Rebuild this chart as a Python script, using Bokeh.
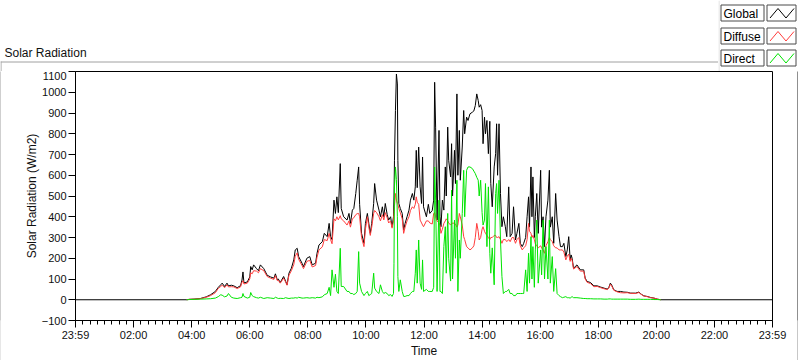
import numpy as np
from bokeh.plotting import figure
from bokeh.layouts import column, row
from bokeh.models import Range1d, FixedTicker
from bokeh.core.properties import value
from bokeh.embed import file_html
from bokeh.resources import INLINE

nan = float("nan")

times = [
    "00:00","03:50","03:55","04:05","04:18","04:30","04:39","04:49","04:55","05:00",
    "05:03","05:08","05:13","05:16","05:22","05:27","05:34","05:41","05:44","05:46",
    "05:48","05:55","06:00","06:02","06:05","06:08","06:14","06:18","06:22","06:29",
    "06:36","06:43","06:50","06:53","06:57","06:59","07:03","07:10","07:14","07:17",
    "07:21","07:26","07:31","07:34","07:38","07:41","07:48","07:51","07:58","08:04",
    "08:09","08:16","08:19","08:23","08:30","08:34","08:40","08:44","08:47","08:50",
    "08:54","08:57","09:00","09:03","09:07","09:09","09:14","09:21","09:25","09:28",
    "09:32","09:35","09:39","09:42","09:45","09:47","09:51","09:56","09:59","10:03",
    "10:06","10:09","10:12","10:16","10:18","10:22","10:27","10:30","10:34","10:37",
    "10:40","10:44","10:47","10:51","10:54","10:57","10:58","10:59","11:01","11:03",
    "11:05","11:06","11:08","11:11","11:15","11:18","11:21","11:25","11:29","11:32",
    "11:36","11:39","11:42","11:44","11:46","11:49","11:52","11:55","11:57","11:59",
    "12:05","12:09","12:12","12:17","12:20","12:22","12:24","12:27","12:31","12:33",
    "12:35","12:38","12:41","12:44","12:46","12:49","12:51","12:55","12:57","12:59",
    "13:03","13:05","13:08","13:10","13:13","13:15","13:19","13:22","13:24","13:28",
    "13:31","13:35","13:40","13:43","13:46","13:49","13:52","13:54","13:57","14:00",
    "14:02","14:05","14:07","14:10","14:13","14:16","14:18","14:21","14:25","14:28",
    "14:30","14:32","14:35","14:38","14:41","14:44","14:48","14:51","14:55","14:58",
    "15:02","15:05","15:09","15:12","15:16","15:19","15:23","15:26","15:30","15:33",
    "15:36","15:38","15:41","15:43","15:45","15:48","15:50","15:53","15:56","16:01",
    "16:03","16:06","16:09","16:12","16:16","16:19","16:21","16:25","16:28","16:32",
    "16:35","16:39","16:42","16:46","16:49","16:53","16:56","16:59","17:02","17:04",
    "17:06","17:09","17:16","17:23","17:30","17:33","17:37","17:44","17:51","17:58",
    "18:05","18:12","18:19","18:22","18:25","18:28","18:32","18:39","18:46","18:53",
    "19:00","19:07","19:17","19:24","19:28","19:34","19:41","19:48","19:55","20:02",
    "20:09","24:00",
]

global_wm2 = [
    0,0,2,3,6,14,24,40,60,72,
    80,64,80,67,70,67,58,68,95,134,
    81,86,110,160,144,168,150,140,168,150,
    118,110,104,125,96,100,83,112,90,72,
    128,152,192,240,248,208,176,160,200,208,
    168,176,224,264,280,320,304,368,304,290,
    480,416,496,420,656,440,400,384,416,368,
    432,440,512,576,640,460,320,272,368,416,
    368,320,368,464,560,480,432,400,448,400,
    464,410,384,400,352,400,500,672,912,1088,
    1040,672,464,440,416,336,368,400,432,480,
    512,480,544,720,540,736,544,464,688,448,
    400,460,416,430,480,1048,832,384,816,400,
    352,480,432,640,500,832,672,592,752,500,
    720,560,992,600,816,576,736,912,800,880,
    864,896,904,910,936,992,960,928,940,912,
    752,880,800,864,704,860,560,448,640,704,
    848,600,848,512,352,400,352,304,544,304,
    320,448,288,320,368,272,256,272,300,400,
    496,350,640,400,592,300,400,512,320,624,
    350,400,256,400,480,624,350,400,272,512,
    384,304,256,256,272,208,240,304,192,216,
    200,152,168,144,144,104,88,83,67,67,
    61,56,51,60,80,70,48,40,40,37,
    36,32,32,37,28,19,16,11,8,3,
    0,0,
]

diffuse_wm2 = [
    nan,0,2,3,5,12,20,34,55,64,
    70,58,72,62,63,62,54,62,84,92,
    76,80,100,130,125,140,138,130,150,140,
    112,104,98,116,92,94,80,104,86,70,
    118,140,170,210,226,195,165,150,185,190,
    158,165,205,240,255,290,285,320,290,270,
    390,380,400,385,405,390,380,360,380,350,
    390,395,410,415,416,400,300,256,340,400,
    350,310,350,416,430,420,400,380,410,385,
    420,395,370,380,345,380,420,450,512,480,
    464,460,440,420,390,320,350,380,400,430,
    448,440,460,496,470,460,384,370,360,352,
    380,380,370,365,416,420,400,380,370,360,
    320,340,368,380,390,380,370,360,365,370,
    368,365,350,360,416,400,360,304,290,256,
    250,240,250,260,300,368,330,288,300,340,
    352,330,320,310,300,290,300,300,310,310,
    300,300,304,290,272,290,290,280,290,280,
    300,300,272,290,300,260,240,250,260,290,
    368,330,320,300,310,290,270,260,250,260,
    250,240,224,260,280,300,290,280,260,250,
    250,240,240,240,230,192,210,220,185,200,
    190,148,160,138,138,100,84,78,63,64,
    58,53,49,57,75,66,46,38,34,33,
    34,31,30,35,27,18,15,10,8,3,
    0,nan,
]

direct_wm2 = [
    nan,0,1,2,3,4,5,8,15,24,
    22,14,18,30,12,8,6,10,12,30,
    16,8,12,35,20,15,10,8,12,6,
    10,8,6,12,8,6,7,6,10,8,
    6,8,8,10,8,12,8,8,10,8,
    10,8,12,10,14,24,30,60,20,144,
    60,123,40,30,248,64,64,40,40,30,
    30,25,30,40,232,80,40,20,30,40,
    20,25,30,128,56,40,30,72,40,30,
    35,30,20,25,16,30,176,544,640,580,
    400,112,40,96,40,16,16,20,20,30,
    40,40,128,240,80,288,80,50,192,40,
    50,40,40,40,60,640,480,40,480,40,
    40,30,256,352,128,416,200,90,528,100,
    384,200,576,40,288,200,416,624,400,624,
    640,640,632,620,608,590,576,500,576,420,
    360,384,560,256,544,224,128,250,72,512,
    560,416,576,288,112,30,40,40,50,30,
    30,20,20,30,30,30,30,30,144,40,
    224,80,304,100,256,60,240,384,80,240,
    120,384,100,256,100,384,80,208,40,150,
    30,20,15,10,12,15,10,10,8,12,
    15,10,10,8,6,6,5,5,4,4,
    4,3,3,4,4,3,3,3,3,3,
    3,2,2,3,2,2,2,2,1,1,
    0,nan,
]

x_tick_minutes = [0, 120, 240, 360, 480, 600, 720, 840, 960, 1080, 1200, 1320, 1440]
x_tick_labels = ["23:59", "02:00", "04:00", "06:00", "08:00", "10:00", "12:00",
                 "14:00", "16:00", "18:00", "20:00", "22:00", "23:59"]
x_minor_step = 15
y_ticks = [-100, 0, 100, 200, 300, 400, 500, 600, 700, 800, 900, 1000, 1100]

chart_title = "Solar Radiation"
x_label = "Time"
y_label = "Solar Radiation (W/m2)"
series_names = ["Global", "Diffuse", "Direct"]
series_colors = ["#000000", "#ff3c3c", "#00e400"]

n = len(times)
assert len(global_wm2) == n and len(diffuse_wm2) == n and len(direct_wm2) == n, \
    (n, len(global_wm2), len(diffuse_wm2), len(direct_wm2))


def to_minutes(s):
    h, m = s.split(":")
    return int(h) * 60 + int(m)


t = np.array([to_minutes(s) for s in times], dtype=float)
series = [np.array(global_wm2, float), np.array(diffuse_wm2, float),
          np.array(direct_wm2, float)]

FONT = "Liberation Sans"
TXT = "#101010"
FRAME_LIGHT = "#a0a0a0"
FRAME_DARK = "#202020"


def pixel_fig(w, h):
    """A figure whose frame is the whole canvas, in pixel units (y down)."""
    f = figure(width=w, height=h, output_backend="svg", toolbar_location=None, tools="",
               x_range=Range1d(0, w), y_range=Range1d(h, 0),
               x_axis_type=None, y_axis_type=None, min_border=0,
               outline_line_color=None, background_fill_color="white",
               border_fill_color="white")
    f.grid.visible = False
    return f


def strip(w, h, color):
    """A plain filled strip used for the control's border lines."""
    f = figure(width=w, height=h, output_backend="svg", toolbar_location=None, tools="",
               x_range=Range1d(0, 1), y_range=Range1d(0, 1),
               x_axis_type=None, y_axis_type=None, min_border=0,
               outline_line_color=None, background_fill_color=color,
               border_fill_color=color)
    f.grid.visible = False
    return f


# ---- title strip (top-left) ----
TOP_H = 71
f_title = pixel_fig(718, TOP_H)
f_title.text(x=[4], y=[52], text=[chart_title], text_font=value(FONT),
             text_font_size="12px", text_baseline="middle", text_color=TXT)
f_title.segment(x0=[0, 0.5], y0=[61.5, 61], x1=[718, 0.5], y1=[61.5, TOP_H],
                line_color=FRAME_LIGHT, line_width=1)

# ---- legend (top-right) ----
f_leg = pixel_fig(82, TOP_H)
f_leg.segment(x0=[0.5], y0=[0], x1=[0.5], y1=[TOP_H], line_color="#dcdcdc")
box_tops = [4.5, 27.5, 49.5]
box_h = 16
f_leg.quad(left=[2.5] * 3, right=[45.5] * 3, top=box_tops,
           bottom=[b + box_h for b in box_tops],
           fill_color="white", line_color="#4a4a4a", line_width=1)
f_leg.quad(left=[48.5] * 3, right=[77.5] * 3, top=box_tops,
           bottom=[b + box_h for b in box_tops],
           fill_color="white", line_color="#4a4a4a", line_width=1)
f_leg.text(x=[5] * 3, y=[b + box_h / 2 + 0.5 for b in box_tops], text=series_names,
           text_font=value(FONT), text_font_size="12px", text_baseline="middle",
           text_color="#000000")
zig_xs = [[51.5, 59.5, 67.5, 75.5] for _ in box_tops]
zig_ys = [[b + 13, b + 3.5, b + 13, b + 3.5] for b in box_tops]
f_leg.multi_line(xs=zig_xs, ys=zig_ys, line_color=series_colors, line_width=1)

# ---- main chart ----
MAIN_H = 361 - TOP_H - 1
p = figure(width=796, height=MAIN_H, output_backend="svg", toolbar_location=None, tools="",
           x_range=Range1d(0, 1440), y_range=Range1d(-100, 1100),
           min_border_left=74, min_border_right=25, min_border_top=0, min_border_bottom=39,
           background_fill_color="white", border_fill_color="white",
           outline_line_color="black", outline_line_width=1)
p.grid.visible = False

for vals, col in zip(series, series_colors):
    p.line(t, vals, line_color=col, line_width=1)

xa = p.xaxis[0]
xa.ticker = FixedTicker(ticks=x_tick_minutes,
                        minor_ticks=list(range(0, 1441, x_minor_step)))
xa.major_label_overrides = {m: lab for m, lab in zip(x_tick_minutes, x_tick_labels)}
xa.axis_label = x_label
xa.major_tick_in = 0
xa.major_tick_out = 7
xa.minor_tick_in = 0
xa.minor_tick_out = 4
xa.major_label_standoff = 1
xa.axis_label_standoff = 0

ya = p.yaxis[0]
ya.ticker = FixedTicker(ticks=y_ticks, minor_ticks=[])
ya.axis_label = y_label
ya.major_tick_in = 0
ya.major_tick_out = 7
ya.minor_tick_out = 0
ya.major_label_standoff = 2
ya.axis_label_standoff = 0

for ax in (xa, ya):
    ax.axis_line_color = "black"
    ax.major_tick_line_color = "black"
    ax.minor_tick_line_color = "black"
    ax.major_label_text_font = FONT
    ax.major_label_text_font_size = "11px"
    ax.major_label_text_color = TXT
    ax.axis_label_text_font = FONT
    ax.axis_label_text_font_size = "12px"
    ax.axis_label_text_font_style = "normal"
    ax.axis_label_text_color = TXT

middle = row(strip(1, MAIN_H, FRAME_LIGHT), p, strip(1, MAIN_H, FRAME_DARK),
             strip(2, MAIN_H, "white"), spacing=0)
layout = column(row(f_title, f_leg, spacing=0), middle, strip(800, 1, FRAME_DARK),
                spacing=0)

open("out.html", "w").write(file_html(layout, INLINE))
